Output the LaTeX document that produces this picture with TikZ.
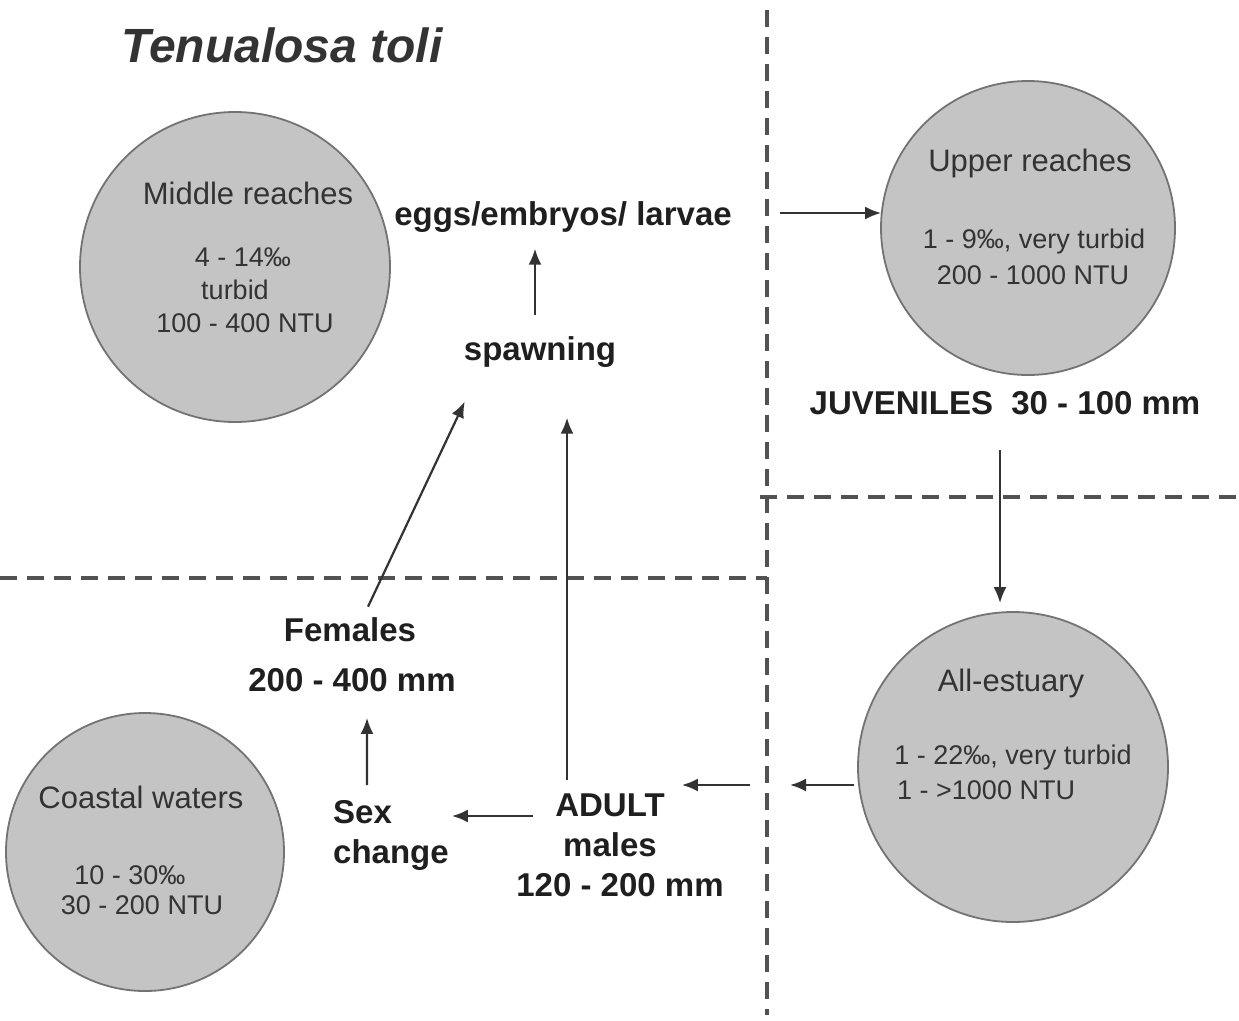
\documentclass[tikz,border=0pt]{standalone}
\usepackage{fontspec}
\setmainfont{Liberation Sans}
\usetikzlibrary{arrows.meta,calc}
\begin{document}
\begin{tikzpicture}[x=1pt,y=-1pt,
  lab/.style={font=\fontsize{33}{40}\selectfont\bfseries, text=black!88, inner sep=0pt},
  head/.style={font=\fontsize{31}{37}\selectfont, text=black!80, inner sep=0pt},
  small/.style={font=\fontsize{27}{33}\selectfont, text=black!80, inner sep=0pt},
  zone/.style={circle, fill=black!23, draw=black!55, line width=1.8pt, inner sep=0pt},
  arr/.style={-{Latex[length=16pt,width=13pt]}, line width=2.2pt, draw=black!80},
  divider/.style={dash pattern=on 17pt off 10pt, line width=3.5pt, draw=black!68}]
\useasboundingbox (0,0) rectangle (1239,1020);
\fill[white] (0,0) rectangle (1239,1020);

% dividers
\draw[divider] (767,10) -- (767,1015);
\draw[divider] (0,578) -- (767,578);
\draw[divider] (760,497) -- (1239,497);

% title
\node[font=\fontsize{48}{56}\selectfont\bfseries\itshape, text=black!80, inner sep=0pt] (title) at (282,45) {Tenualosa toli};

% habitat circles
\node[zone, minimum size=310pt] (middle) at (235,267) {};
\node[zone, minimum size=294pt] (upper) at (1028,228) {};
\node[zone, minimum size=310pt] (estuary) at (1013,767) {};
\node[zone, minimum size=278pt] (coastal) at (145,852) {};

\node[head] (middleH) at (248,193) {Middle reaches};
\node[small] (middleS) at (243,257) {4 - 14‰};
\node[small] (middleT) at (235,290) {turbid};
\node[small] (middleN) at (245,323) {100 - 400 NTU};

\node[head] (upperH) at (1030,163) {Upper reaches};
\node[small] (upperS) at (1034,242) {1 - 9‰, very turbid};
\node[small] (upperN) at (1033,275) {200 - 1000 NTU};

\node[head] (estuaryH) at (1011,683) {All-estuary};
\node[small] (estuaryS) at (1013,758) {1 - 22‰, very turbid};
\node[small, anchor=west] (estuaryN) at (897,790) {1 - >1000 NTU};

\node[head] (coastalH) at (141,797) {Coastal waters};
\node[small] (coastalS) at (130,875) {10 - 30‰};
\node[small] (coastalN) at (142,905) {30 - 200 NTU};

% life-cycle labels
\node[lab] (eggs) at (563,217) {eggs/embryos/ larvae};
\node[lab] (spawn) at (540,352) {spawning};
\node[lab] (juv) at (1005,403) {JUVENILES\ \ 30 - 100 mm};
\node[lab] (fem) at (350,630) {Females};
\node[lab] (fsize) at (352,680) {200 - 400 mm};
\node[lab, align=left, anchor=north west] (sex) at (333,800) {Sex\\change};
\node[lab] (adult) at (610,805) {ADULT};
\node[lab] (males) at (610,845) {males};
\node[lab] (asize) at (620,885) {120 - 200 mm};

\coordinate (gapR) at (790,785);
\coordinate (gapL) at (750,785);

% arrows
\draw[arr] ($(spawn.north)+(-5,-21)$) -- ($(eggs.south)+(-28,16)$);
\draw[arr] ($(fem.north)+(18,-11)$) -- ($(spawn.south west)+(1,34)$);
\draw[arr] ($(adult.north)+(-43,-13)$) -- ($(spawn.south)+(27,50)$);
\draw[arr] ($(sex.north)+(-24,-15)$) -- ($(fsize.south)+(15,26)$);
\draw[arr] ($(adult.west)+(-22,11)$) -- ($(sex.north east)+(3,16)$);
\draw[arr] ($(eggs.east)+(48,-4)$) -- ($(upper.west)+(1,-15)$);
\draw[arr] ($(juv.south)+(-5,35)$) -- ($(estuary.north)+(-13,-8)$);
\draw[arr] ($(estuary.west)+(-3,18)$) -- (gapR);
\draw[arr] (gapL) -- ($(adult.east)+(17,-20)$);
\end{tikzpicture}
\end{document}
